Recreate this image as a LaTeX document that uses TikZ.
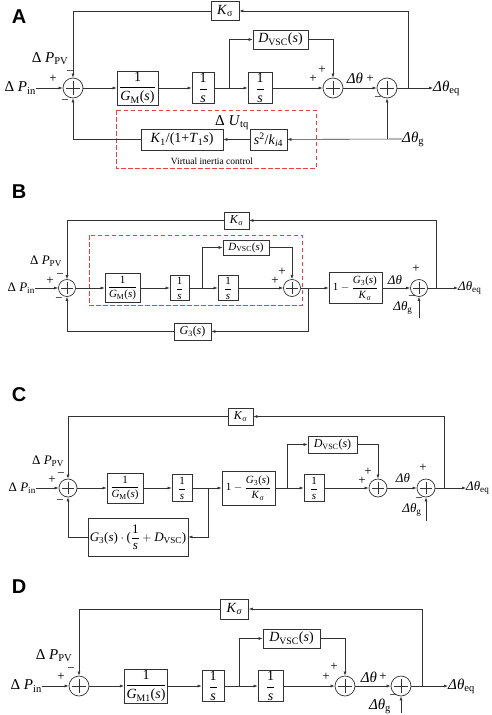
\documentclass[tikz,border=0pt]{standalone}
\usepackage{amssymb}
\usepackage{amsmath}
\usepackage{fontspec}
\setmainfont{Liberation Serif}
\newfontfamily\panelfont{Liberation Sans}
\usetikzlibrary{arrows.meta}
\definecolor{vicred}{RGB}{238,64,64}

\newcommand{\Ksig}{\textit{K}\textsubscript{σ}}
\newcommand{\Dvsc}{\textit{D}\textsubscript{VSC}}
\newcommand{\frc}[2]{$\displaystyle\frac{\text{#1}}{\text{#2}}$}
\newcommand{\dth}{\textit{Δθ}}
\newcommand{\fLab}{\fontsize{15}{17}\selectfont}
\newcommand{\fBox}{\fontsize{14}{16}\selectfont}
\newcommand{\fLabs}{\fontsize{13}{15}\selectfont}
\newcommand{\fBoxs}{\fontsize{11}{13}\selectfont}

\tikzset{
  blk/.style={draw=black!80, line width=0.7pt, inner sep=1pt, fill=white},
  box/.style 2 args={minimum width=#1pt, minimum height=#2pt},
  sumc/.style={circle, draw=black!80, line width=0.7pt, inner sep=0pt, minimum size=#1, fill=white},
  cross/.style={draw=black!80, line width=0.6pt},
  sig/.style={draw=black!80, line width=0.6pt, -{Latex[length=4pt,width=3pt]}},
  lbl/.style={inner sep=0pt},
  sgn/.style={inner sep=0pt, font=\fontsize{13}{15}\selectfont},
  panel/.style={inner sep=0pt, font=\panelfont\bfseries\fontsize{20}{22}\selectfont},
  vic/.style={draw=vicred, line width=1pt, dash pattern=on 4.5pt off 2.5pt},
}

\begin{document}
\begin{tikzpicture}[x=1pt,y=-1pt]
  \useasboundingbox (0,0) rectangle (491,715);

  % panel letters
  \foreach \y/\alph in {17/A, 192/B, 395/C, 587/D}{
    \node[panel] (lab\alph) at (19,\y) {\alph};
  }

  % summing junctions
  \foreach \n/\x/\y/\d in {
      s1A/73/88/20, s2A/333/88/20, s3A/387/88/20,
      s1B/67/288/17, s2B/292/288/17, s3B/419/288/17,
      s1C/68/488/18, s2C/378/488/18, s3C/426/488/18,
      s1D/79/686/20, s2D/345/686/20, s3D/401/686/20
    }{
    \node[sumc=\d pt] (\n) at (\x,\y) {};
    \draw[cross] ([xshift=-0.33*\d pt]\n.center) -- ([xshift=0.33*\d pt]\n.center);
    \draw[cross] ([yshift=-0.33*\d pt]\n.center) -- ([yshift=0.33*\d pt]\n.center);
  }

  % signs at the junctions
  \foreach \x/\y/\t [count=\i] in {
      53/79/+, 70/73/−, 65/102/−, 322/70/+, 313/79/+, 370/79/+, 378/99/−,
      50/281/+, 60/276/−, 59/300/−, 282/272/+, 275/281/+, 416/269/+, 412/298/−,
      52/480/+, 61/475/−, 60/502/−, 368/472/+, 362/481/+, 423/468/+, 419/500/−,
      61/677/+, 71/670/−, 334/667/+, 326/677/+, 383/677/+, 393/697/−
    }{
    \node[sgn] (sg\i) at (\x,\y) {\t};
  }

  % ---------------- A ----------------
  \node[blk, box={28}{19}, font=\fBox] (KsA) at (225,11) {\Ksig};
  \node[blk, box={41}{31}, font=\fBox] (GmA) at (137.5,88) {\frc{1}{\textit{G}\textsubscript{M}(\textit{s})}};
  \node[blk, box={22}{30}, font=\fBox] (IntA1) at (203,88) {\frc{1}{\textit{s}}};
  \node[blk, box={55}{19}, font=\fBox] (DvA) at (280.5,39.5) {\Dvsc(\textit{s})};
  \node[blk, box={24}{29}, font=\fBox] (IntA2) at (260,88) {\frc{1}{\textit{s}}};
  \node[blk, box={37}{21}, font=\fBox] (SkA) at (268.5,139.5) {\textit{s}\textsuperscript{2}/\textit{k}\textsubscript{\textit{i}4}};
  \node[blk, box={82}{21}, font=\fBox] (KtA) at (182,139.5) {\textit{K}\textsubscript{1}/(1+\textit{T}\textsubscript{1}\textit{s})};
  \draw[vic] (116,110) rectangle (316,168);
  \node[lbl, font=\fontsize{9.5}{11}\selectfont] (VicA) at (212,161) {Virtual inertia control};
  \node[lbl, font=\fLab] (PvA) at (50,59) {Δ \textit{P}\textsubscript{PV}};
  \node[lbl, font=\fLab, anchor=east] (PinA) at (36,88) {Δ \textit{P}\textsubscript{in}};
  \node[lbl, font=\fLab] (UtqA) at (232,123) {Δ \textit{U}\textsubscript{tq}};
  \node[lbl, font=\fLab] (ThA) at (355,78) {\dth};
  \node[lbl, font=\fLab, anchor=west] (EqA) at (433,88) {\dth\textsubscript{eq}};
  \node[lbl, font=\fLab, anchor=west] (ThgA) at (402,139) {\dth\textsubscript{g}};
  \coordinate (bA) at (229,88);
  \coordinate (jA) at (408,88);

  \draw[sig] (PinA.east) -- (s1A);
  \draw[sig] (s1A) -- (GmA);
  \draw[sig] (GmA) -- (IntA1);
  \draw[sig] (IntA1) -- (IntA2);
  \draw[sig] (bA) |- (DvA);
  \draw[sig] (IntA2) -- (s2A);
  \draw[sig] (DvA) -| (s2A);
  \draw[sig] (s2A) -- (s3A);
  \draw[sig] (s3A) -- (EqA.west);
  \draw[sig] (jA) |- (KsA);
  \draw[sig] (KsA) -| (s1A);
  \draw[sig] (ThgA.west) -- (SkA);
  \draw[sig] (s3A |- ThgA.west) -- (s3A);
  \draw[sig] (SkA) -- (KtA);
  \draw[sig] (KtA) -| (s1A);

  % ---------------- B ----------------
  \node[blk, box={25}{17}, font=\fontsize{12}{14}\selectfont] (KsB) at (236.5,220.5) {\Ksig};
  \node[blk, box={35}{29}, font=\fBoxs] (GmB) at (122.5,288) {\frc{1}{\textit{G}\textsubscript{M}(\textit{s})}};
  \node[blk, box={19}{25}, font=\fBoxs] (IntB1) at (179.5,288) {\frc{1}{\textit{s}}};
  \node[blk, box={46}{15}, font=\fBoxs] (DvB) at (246,247.5) {\Dvsc(\textit{s})};
  \node[blk, box={20}{25}, font=\fBoxs] (IntB2) at (228,288) {\frc{1}{\textit{s}}};
  \node[blk, box={53}{31}, font=\fBoxs] (GfB) at (355.5,288) {$\text{1}-\displaystyle\frac{\text{\textit{G}\textsubscript{3}(\textit{s})}}{\text{\Ksig}}$};
  \node[blk, box={37}{17}, font=\fontsize{12}{14}\selectfont] (G3B) at (192.5,331.5) {\textit{G}\textsubscript{3}(\textit{s})};
  \draw[vic] (89,235) rectangle (302,305);
  \node[lbl, font=\fLabs] (PvB) at (46,261) {Δ \textit{P}\textsubscript{PV}};
  \node[lbl, font=\fLabs, anchor=east] (PinB) at (35,288) {Δ \textit{P}\textsubscript{in}};
  \node[lbl, font=\fLabs] (ThB) at (395,280) {\dth};
  \node[lbl, font=\fLabs, anchor=west] (EqB) at (458,288) {\dth\textsubscript{eq}};
  \node[lbl, font=\fLabs] (ThgB) at (403,308) {\dth\textsubscript{g}};
  \coordinate (bB) at (202,288);
  \coordinate (cB) at (308,288);
  \coordinate (jB) at (436,288);
  \coordinate (gB) at (419,318);

  \draw[sig] (PinB.east) -- (s1B);
  \draw[sig] (s1B) -- (GmB);
  \draw[sig] (GmB) -- (IntB1);
  \draw[sig] (IntB1) -- (IntB2);
  \draw[sig] (bB) |- (DvB);
  \draw[sig] (IntB2) -- (s2B);
  \draw[sig] (DvB) -| (s2B);
  \draw[sig] (s2B) -- (GfB);
  \draw[sig] (GfB) -- (s3B);
  \draw[sig] (s3B) -- (EqB.west);
  \draw[sig] (jB) |- (KsB);
  \draw[sig] (KsB) -| (s1B);
  \draw[sig] (cB) |- (G3B);
  \draw[sig] (G3B) -| (s1B);
  \draw[sig] (gB) -- (s3B);

  % ---------------- C ----------------
  \node[blk, box={25}{17}, font=\fontsize{12}{14}\selectfont] (KsC) at (240.5,416.5) {\Ksig};
  \node[blk, box={36}{30}, font=\fBoxs] (GmC) at (125,488) {\frc{1}{\textit{G}\textsubscript{M}(\textit{s})}};
  \node[blk, box={20}{27}, font=\fBoxs] (IntC1) at (182,488) {\frc{1}{\textit{s}}};
  \node[blk, box={53}{34}, font=\fBoxs] (GfC) at (248.5,488) {$\text{1}-\displaystyle\frac{\text{\textit{G}\textsubscript{3}(\textit{s})}}{\text{\Ksig}}$};
  \node[blk, box={100}{38}, font=\fontsize{13}{15}\selectfont] (G3C) at (138,537) {$\text{\textit{G}\textsubscript{3}(\textit{s})}\cdot\text{(}\displaystyle\frac{\text{1}}{\text{\textit{s}}}+\text{\Dvsc)}$};
  \node[blk, box={49}{17}, font=\fontsize{12}{14}\selectfont] (DvC) at (332.5,444.5) {\Dvsc(\textit{s})};
  \node[blk, box={20}{27}, font=\fBoxs] (IntC2) at (314,488) {\frc{1}{\textit{s}}};
  \node[lbl, font=\fLabs] (PvC) at (48,461) {Δ \textit{P}\textsubscript{PV}};
  \node[lbl, font=\fLabs, anchor=east] (PinC) at (36,488) {Δ \textit{P}\textsubscript{in}};
  \node[lbl, font=\fLabs] (ThC) at (403,478) {\dth};
  \node[lbl, font=\fLabs, anchor=west] (EqC) at (466,488) {\dth\textsubscript{eq}};
  \node[lbl, font=\fLabs] (ThgC) at (412,510) {\dth\textsubscript{g}};
  \coordinate (bC1) at (208,488);
  \coordinate (bC2) at (287,488);
  \coordinate (jC) at (444,488);
  \coordinate (gC) at (426,521);

  \draw[sig] (PinC.east) -- (s1C);
  \draw[sig] (s1C) -- (GmC);
  \draw[sig] (GmC) -- (IntC1);
  \draw[sig] (IntC1) -- (GfC);
  \draw[sig] (bC1) |- (G3C);
  \draw[sig] (G3C) -| (s1C);
  \draw[sig] (GfC) -- (IntC2);
  \draw[sig] (bC2) |- (DvC);
  \draw[sig] (IntC2) -- (s2C);
  \draw[sig] (DvC) -| (s2C);
  \draw[sig] (s2C) -- (s3C);
  \draw[sig] (s3C) -- (EqC.west);
  \draw[sig] (jC) |- (KsC);
  \draw[sig] (KsC) -| (s1C);
  \draw[sig] (gC) -- (s3C);

  % ---------------- D ----------------
  \node[blk, box={28}{20}, font=\fBox] (KsD) at (234.5,609) {\textit{K}\textsubscript{\textit{σ}}};
  \node[blk, box={42}{34}, font=\fBox] (GmD) at (146,686) {\frc{1}{\textit{G}\textsubscript{M1}(\textit{s})}};
  \node[blk, box={22}{28}, font=\fBox] (IntD1) at (213,686) {\frc{1}{\textit{s}}};
  \node[blk, box={57}{19}, font=\fBox] (DvD) at (291.5,638.5) {\Dvsc(\textit{s})};
  \node[blk, box={25}{28}, font=\fBox] (IntD2) at (270.5,686) {\frc{1}{\textit{s}}};
  \node[lbl, font=\fLab] (PvD) at (54,656) {Δ \textit{P}\textsubscript{PV}};
  \node[lbl, font=\fLab, anchor=east] (PinD) at (42,686) {Δ \textit{P}\textsubscript{in}};
  \node[lbl, font=\fLab] (ThD) at (369,677) {\dth};
  \node[lbl, font=\fLab, anchor=west] (EqD) at (448,686) {\dth\textsubscript{eq}};
  \node[lbl, font=\fLab] (ThgD) at (380,706) {\dth\textsubscript{g}};
  \coordinate (bD) at (239,686);
  \coordinate (jD) at (422,686);
  \coordinate (gD) at (401,713);

  \draw[sig] (PinD.east) -- (s1D);
  \draw[sig] (s1D) -- (GmD);
  \draw[sig] (GmD) -- (IntD1);
  \draw[sig] (IntD1) -- (IntD2);
  \draw[sig] (bD) |- (DvD);
  \draw[sig] (IntD2) -- (s2D);
  \draw[sig] (DvD) -| (s2D);
  \draw[sig] (s2D) -- (s3D);
  \draw[sig] (s3D) -- (EqD.west);
  \draw[sig] (jD) |- (KsD);
  \draw[sig] (KsD) -| (s1D);
  \draw[sig] (gD) -- (s3D);
\end{tikzpicture}
\end{document}
